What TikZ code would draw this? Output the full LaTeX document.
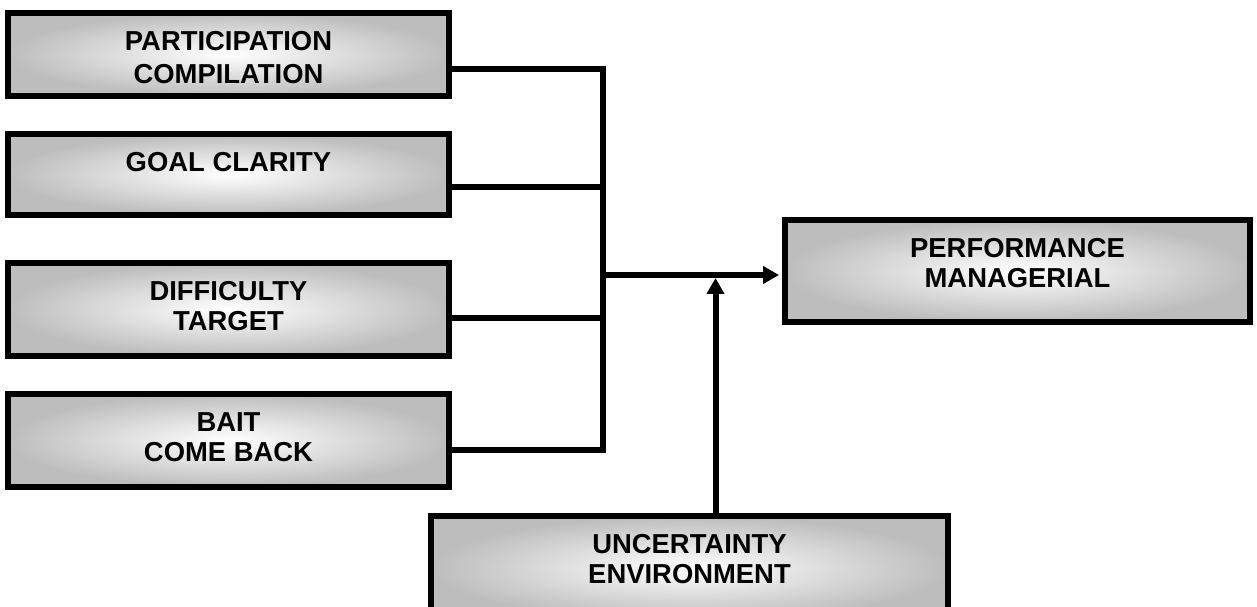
\documentclass[tikz,border=0pt]{standalone}
\usepackage{fontspec}
\setmainfont{Liberation Sans}
\usetikzlibrary{arrows.meta,positioning}
\definecolor{boxgray}{RGB}{189,189,189}
\tikzset{>={Triangle[length=0.32cm,width=0.34cm]}}

\begin{document}
\begin{tikzpicture}[x=0.02cm, y=-0.02cm,
    factor/.style={draw=black, line width=0.12cm, inner color=white, outer color=boxgray, inner sep=0pt},
    factor text/.style={font=\bfseries\fontsize{15.6}{17.07}\selectfont, align=center, inner sep=0pt, anchor=north},
    wire/.style={line width=0.12cm}]
    \useasboundingbox (0,0) rectangle (1257,607);

    % four factors on the left
    \foreach \name/\cy/\h/\ty/\txt in {
        pc/54.5/1.66cm/69/{PARTICIPATION\\[0.06cm]COMPILATION},
        gc/174.5/1.62cm/187/{GOAL CLARITY},
        dt/309.5/1.86cm/318/{DIFFICULTY\\TARGET},
        bc/440.5/1.86cm/450/{BAIT\\COME BACK}}
    {
        \node[factor, minimum width=8.82cm, minimum height=\h] (\name) at (228.5,\cy) {};
        \node[factor text] (\name-t) at ([yshift=-0.42cm]\name.north) {\txt};
        \coordinate (bus\name) at (603,\ty);
    }

    % result and moderator
    \node[factor, minimum width=9.3cm, minimum height=2.04cm] (pm) at (1017.5,271) {};
    \node[factor text] (pm-t) at ([yshift=-0.42cm]pm.north) {PERFORMANCE\\MANAGERIAL};
    \node[factor, minimum width=10.34cm, minimum height=2.08cm] (ue) at (689.5,568) {};
    \node[factor text] (ue-t) at ([yshift=-0.42cm]ue.north) {UNCERTAINTY\\ENVIRONMENT};

    % connectors
    \draw[wire] (pc.east |- buspc) -- (buspc) -- (busbc) -- (bc.east |- busbc);
    \draw[wire] (gc.east |- busgc) -- (busgc);
    \draw[wire] (dt.east |- busdt) -- (busdt);
    \coordinate (hub) at (603,275);
    \coordinate (meet) at (715.5,278);
    \draw[wire,->,shorten >=0.06cm] (hub) -- (hub -| pm.west);
    \draw[wire,->] (ue.north -| meet) -- (meet);
\end{tikzpicture}
\end{document}
